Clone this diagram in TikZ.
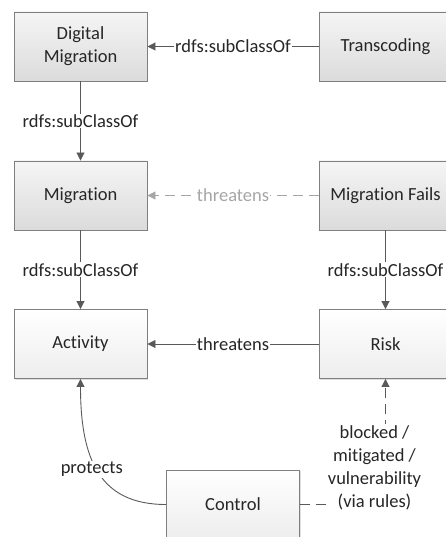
\documentclass[tikz,border=0pt]{standalone}
\usepackage{fontspec}
\setmainfont{Carlito}[Ligatures={NoCommon}]
\usepackage{xcolor}
\usetikzlibrary{math}
\usetikzlibrary{calc}
\usetikzlibrary{arrows.meta}
\usetikzlibrary{shadows}

\definecolor{edgegray}{HTML}{595959}
\definecolor{boxgray}{HTML}{7F7F7F}
\definecolor{fadegray}{HTML}{A6A6A6}
\definecolor{textgray}{HTML}{262626}

\tikzset{
  class/.style={draw=boxgray, line width=0.9pt, minimum width=133pt,
    minimum height=69pt, inner sep=2pt, align=center, text=textgray,
    drop shadow={shadow xshift=1.2pt, shadow yshift=-1.2pt, opacity=0.25}},
  subclass/.style={class, top color=gray!8, bottom color=gray!28},
  baseclass/.style={class, top color=white, bottom color=gray!14},
  rel/.style={draw=edgegray, line width=0.9pt,
    -{Triangle[length=8pt, width=8pt]}},
  weakrel/.style={rel, draw=fadegray, dash pattern=on 10pt off 6pt},
  rulerel/.style={rel, dash pattern=on 10pt off 6pt},
  lbl/.style={fill=white, inner sep=1pt, text=textgray, align=center},
}

\begin{document}
\begin{tikzpicture}[x=1pt, y=1pt, font=\fontsize{18.5}{23}\selectfont]

  \tikzmath{
    \colL = 80.5;  % x of the left column
    \colR = 385.5; % x of the right column
    \rowA = -46.5; % y of the top row
    \rowB = -195.5;
    \rowC = -344;
  }

  % page size
  \useasboundingbox (0,0) rectangle (446,-537);

  % classes
  \node[subclass]  (digmig)   at (\colL, \rowA) {Digital\\Migration};
  \node[subclass]  (transc)   at (\colR, \rowA) {Transcoding};
  \node[subclass]  (mig)      at (\colL, \rowB) {Migration};
  \node[subclass]  (migfails) at (\colR, \rowB) {Migration Fails};
  \node[baseclass] (activity) at (\colL, \rowC) {Activity};
  \node[baseclass] (risk)     at (\colR, \rowC) {Risk};
  \node[baseclass] (control)  at (233, -504.5)  {Control};

  % subclass relations
  \draw[rel] (transc) -- node[lbl] {rdfs:subClassOf} (digmig);
  \draw[rel] (digmig) -- node[lbl] {rdfs:subClassOf} (mig);
  \draw[rel] (mig) -- node[lbl] {rdfs:subClassOf} (activity);
  \draw[rel] (migfails) -- node[lbl] {rdfs:subClassOf} (risk);

  % threats
  \draw[weakrel] (migfails) -- node[lbl, text=fadegray] {threatens} (mig);
  \draw[rel] (risk) -- node[lbl] {threatens} (activity);

  % controls
  \draw[rel] (control.west) .. controls +(-66,0) and +(0,-81) ..
    node[lbl, pos=0.55, xshift=-3pt, yshift=-4pt] {protects} (activity.south);
  \draw[rulerel] (control.east) -| node[lbl, pos=0.5, xshift=-11pt,
    yshift=37pt] {blocked /\\mitigated /\\vulnerability\\(via rules)}
    (risk.south);

\end{tikzpicture}
\end{document}
